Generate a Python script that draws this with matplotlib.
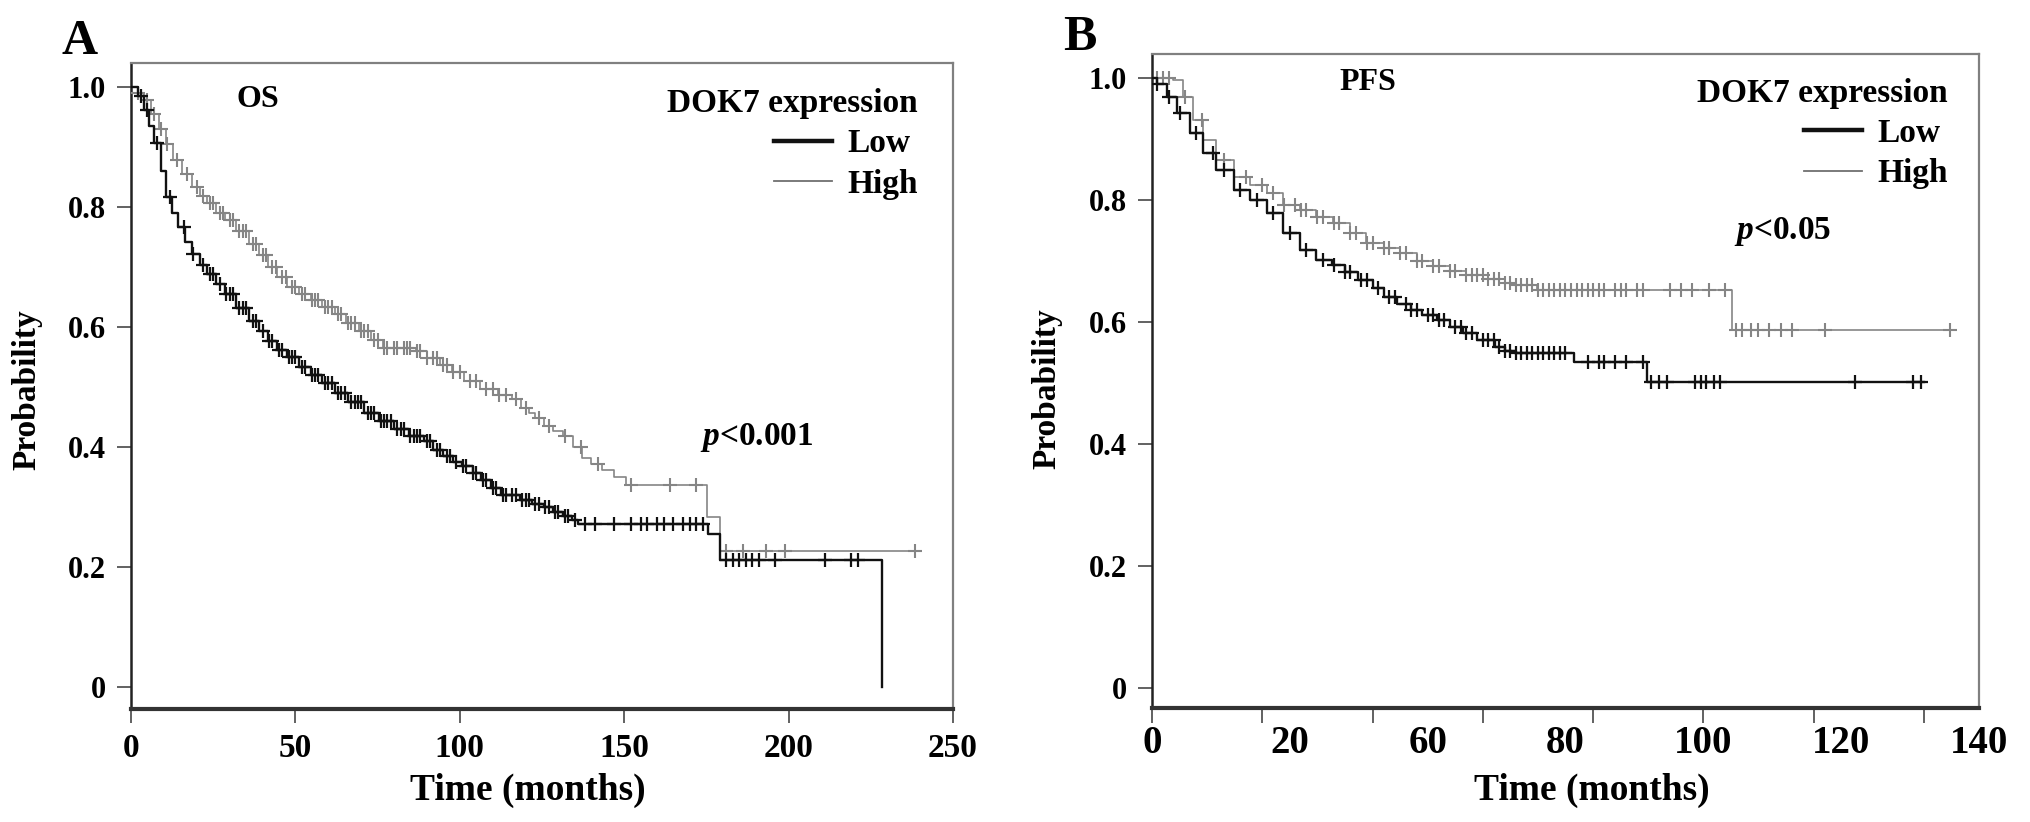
import numpy as np
import matplotlib
matplotlib.use("Agg")
import matplotlib.pyplot as plt
from matplotlib.lines import Line2D

plt.rcParams['font.family'] = ['Liberation Serif', 'DejaVu Serif']
plt.rcParams['font.weight'] = 'bold'
plt.rcParams['mathtext.fontset'] = 'custom'
plt.rcParams['mathtext.it'] = 'Liberation Serif:italic:bold'
plt.rcParams['mathtext.rm'] = 'Liberation Serif:bold'

# ---------------- Panel A (OS) data ----------------
os_low_t = [0, 2, 4, 5.5, 7, 9, 10.6, 12.5, 14.2, 16.5, 18.5, 21, 23, 26, 28.7, 32, 36, 39, 41.7,
            44.5, 47.5, 51, 54.8, 58, 62, 66, 71, 75.5, 80, 84.5, 89, 92, 95, 98, 100.7, 104,
            106.6, 109.5, 112.4, 118.3, 122, 125.6, 128.5, 131.5, 134, 136, 175.4, 179.2, 228.5]
os_low_p = [1.0, 0.985, 0.962, 0.935, 0.906, 0.86, 0.817, 0.79, 0.766, 0.742, 0.722, 0.703, 0.688,
            0.671, 0.655, 0.632, 0.61, 0.593, 0.577, 0.562, 0.549, 0.533, 0.52, 0.506, 0.49, 0.475,
            0.457, 0.443, 0.429, 0.418, 0.41, 0.395, 0.384, 0.375, 0.368, 0.356, 0.345, 0.332,
            0.32, 0.312, 0.305, 0.30, 0.292, 0.284, 0.278, 0.272, 0.255, 0.212, 0.0]
os_low_cens = [3, 5, 8, 12, 16, 19, 22, 24, 25, 27, 29, 30, 31, 33, 34, 35, 37, 38, 40, 42, 43, 45,
               46, 48, 49, 50, 52, 53, 55, 56, 57, 59, 60, 61, 63, 64, 65, 67, 68, 69, 70, 72, 73,
               74, 76, 77, 78, 79, 81, 82, 83, 85, 86, 87, 88, 90, 91, 93, 94, 96, 97, 99, 101,
               102, 104, 105, 107, 108, 110, 111, 113, 114, 116, 117, 119, 120, 121, 123, 124, 126,
               127, 129, 130, 132, 133, 135, 138, 141, 147, 152, 155, 157, 160, 162, 165, 168, 170,
               172, 174, 181, 183, 185, 187, 189, 191, 196, 211, 219, 221]

os_high_t = [0, 2, 4, 6, 8.5, 10.5, 12.8, 15.5, 18.5, 21, 23, 26, 28.7, 32, 36, 39, 41.7, 44.5,
             47.5, 51, 54.8, 58, 62, 65.5, 69.3, 73, 76.6, 86.8, 90, 94, 97.5, 101.3, 106, 111.5,
             115.9, 118.5, 121.2, 123, 125.6, 128.5, 131.5, 134.5, 137.3, 140, 143.2, 147, 150.5,
             175.3, 179.2, 238.6]
os_high_p = [1.0, 0.99, 0.979, 0.955, 0.93, 0.905, 0.878, 0.855, 0.834, 0.818, 0.806, 0.79, 0.778,
             0.76, 0.739, 0.72, 0.70, 0.683, 0.666, 0.655, 0.644, 0.633, 0.621, 0.607, 0.593, 0.578,
             0.565, 0.56, 0.548, 0.537, 0.524, 0.51, 0.497, 0.487, 0.48, 0.465, 0.457, 0.448, 0.435,
             0.426, 0.418, 0.40, 0.382, 0.372, 0.362, 0.35, 0.337, 0.283, 0.227, 0.227]
os_high_cens = [2, 5, 7, 9, 11, 14, 17, 20, 22, 24, 25, 27, 28, 30, 31, 33, 34, 35, 37, 38, 40, 41,
                43, 44, 46, 47, 49, 50, 52, 53, 55, 56, 57, 59, 60, 61, 63, 64, 66, 67, 68, 70, 71,
                72, 74, 75, 77, 78, 80, 81, 83, 84, 85, 87, 88, 90, 92, 93, 95, 96, 98, 100, 103,
                105, 108, 110, 112, 114, 117, 120, 124, 127, 132, 137, 142, 152, 164, 172, 181, 186,
                193, 199, 238.6]

# ---------------- Panel B (PFS) data ----------------
pfs_low_t = [0, 1, 2.7, 4.5, 6.9, 9.3, 11.7, 14.8, 17.8, 20.8, 23.8, 26.8, 29.8, 32.6, 35, 37.4,
             40, 42.1, 44.5, 46.9, 49, 51.7, 54, 56.4, 59, 62.2, 64, 66, 76.5, 89.8, 140]
pfs_low_p = [1.0, 0.99, 0.969, 0.943, 0.91, 0.877, 0.849, 0.816, 0.80, 0.779, 0.745, 0.718, 0.702,
             0.693, 0.682, 0.669, 0.655, 0.641, 0.63, 0.62, 0.612, 0.603, 0.592, 0.582, 0.571,
             0.559, 0.552, 0.549, 0.534, 0.502, 0.502]
pfs_low_cens = [1, 3, 5, 8, 11, 13, 16, 19, 22, 25, 28, 31, 33, 35, 36, 38, 39, 41, 43, 44, 46, 47,
                48, 50, 51, 52, 53, 55, 56, 57, 58, 60, 61, 62, 63, 64, 65, 66, 67, 68, 69, 70, 71,
                72, 73, 74, 75, 79, 81, 82, 84, 86, 89, 90.5, 92, 93.5, 98.5, 99.5, 100.5, 102,
                103, 127.5, 138, 139.5]

pfs_high_t = [0, 2, 3.9, 5.7, 7.5, 9.3, 11.7, 14.8, 17.8, 20.8, 23.8, 26.8, 29.8, 32.9, 35.9, 38.9,
              42, 45, 48, 51, 54, 57, 61, 64, 66, 69.9, 105.2, 144.8]
pfs_high_p = [1.0, 1.0, 0.997, 0.969, 0.931, 0.898, 0.866, 0.838, 0.825, 0.811, 0.792, 0.784,
              0.772, 0.762, 0.745, 0.729, 0.721, 0.713, 0.70, 0.692, 0.683, 0.676, 0.670, 0.664,
              0.66, 0.652, 0.586, 0.586]
pfs_high_cens = [1, 2, 3, 6, 9, 13, 17, 20, 22, 24, 26, 27, 28, 30, 31, 33, 34, 36, 37, 39, 40, 42,
                 43, 45, 46, 48, 49, 51, 52, 54, 55, 57, 58, 59, 60, 61, 62, 63, 64, 65, 66, 67, 68,
                 69, 70, 71, 72, 73, 74, 75, 76, 77, 78, 79, 80, 81, 82, 84, 85, 86, 88, 89, 94, 96,
                 98, 101, 104, 106, 107, 108.6, 110, 112, 114, 116, 122, 144.8]

y_ticks = [0, 0.2, 0.4, 0.6, 0.8, 1.0]
y_ticklabels = ['0', '0.2', '0.4', '0.6', '0.8', '1.0']
a_xticks = [0, 50, 100, 150, 200, 250]
a_xticklabels = ['0', '50', '100', '150', '200', '250']
b_xtick_marks = [0, 20, 40, 60, 80, 100, 120, 140]
b_xlabel_pos = [0, 25, 50, 75, 100, 125, 150]
b_xticklabels = ['0', '20', '60', '80', '100', '120', '140']

LOW_C = '#111111'
HIGH_C = '#858585'


def step_value(ts, ps, t):
    idx = np.searchsorted(np.asarray(ts), np.asarray(t), side='right') - 1
    return np.asarray(ps)[np.clip(idx, 0, None)]


def draw_curves(ax, lt, lp, lc, ht, hp, hc):
    ax.step(ht, hp, where='post', color=HIGH_C, lw=1.2, zorder=3)
    ax.plot(hc, step_value(ht, hp, hc), ls='none', marker='+', ms=10, mew=1.5,
            color=HIGH_C, zorder=3)
    ax.step(lt, lp, where='post', color=LOW_C, lw=1.7, zorder=4)
    ax.plot(lc, step_value(lt, lp, lc), ls='none', marker='+', ms=10, mew=1.6,
            color=LOW_C, zorder=4)


def style_axes(ax):
    for s in ['top', 'right']:
        ax.spines[s].set_color('#808080')
        ax.spines[s].set_linewidth(1.6)
    ax.spines['left'].set_color('#222222')
    ax.spines['left'].set_linewidth(1.8)
    ax.spines['bottom'].set_color('#333333')
    ax.spines['bottom'].set_linewidth(3.0)
    ax.set_yticks(y_ticks, y_ticklabels)
    ax.tick_params(axis='y', direction='out', length=10, width=1.3, color='#555555',
                   pad=8, labelsize=22)
    ax.tick_params(top=False, right=False)


def add_legend(ax, anchor):
    handles = [Line2D([], [], color=LOW_C, lw=3.2), Line2D([], [], color='#707070', lw=1.3)]
    leg = ax.legend(handles, ['Low', 'High'], title='DOK7 expression', loc='upper right',
                    bbox_to_anchor=anchor, frameon=False, fontsize=24, title_fontsize=24,
                    alignment='right', handlelength=1.75, handletextpad=0.45,
                    labelspacing=0.28, borderpad=0.0, borderaxespad=0.0)
    leg.get_title().set_fontweight('bold')
    return leg


fig = plt.figure(figsize=(20.31, 8.22), dpi=100)
axA = fig.add_axes([0.0645, 0.1375, 0.4047, 0.7859])
axB = fig.add_axes([0.5672, 0.1387, 0.4072, 0.7956])

# ----- Panel A -----
draw_curves(axA, os_low_t, os_low_p, os_low_cens, os_high_t, os_high_p, os_high_cens)
style_axes(axA)
axA.set_xlim(0, 250)
axA.set_ylim(-0.037, 1.04)
axA.set_xticks(a_xticks, a_xticklabels)
axA.tick_params(axis='x', direction='out', length=10, width=1.3, color='#555555',
                pad=7, labelsize=24)
axA.set_xlabel('Time (months)', fontsize=27, fontweight='bold')
axA.xaxis.set_label_coords(0.483, -0.1254)
axA.xaxis.label.set_va('center')
axA.set_ylabel('Probability', fontsize=24, fontweight='bold')
axA.yaxis.set_label_coords(-0.1265, 0.495)
axA.yaxis.label.set_va('center')
axA.text(0.1545, 0.9427, 'OS', transform=axA.transAxes, ha='center', va='center',
         fontsize=23, fontweight='bold')
add_legend(axA, (0.9574, 0.961))
axA.text(0.7616, 0.4195, r'$\mathit{p}$<0.001', transform=axA.transAxes, ha='center',
         va='center', fontsize=24, fontweight='bold')

# ----- Panel B -----
draw_curves(axB, pfs_low_t, pfs_low_p, pfs_low_cens, pfs_high_t, pfs_high_p, pfs_high_cens)
style_axes(axB)
axB.set_xlim(0, 150)
axB.set_ylim(-0.033, 1.039)
axB.xaxis.remove_overlapping_locs = False
# labels on major ticks (no mark), tick marks on minor ticks (no label)
axB.set_xticks(b_xlabel_pos, b_xticklabels)
axB.set_xticks(b_xtick_marks, minor=True)
axB.tick_params(axis='x', which='major', length=0, pad=12, labelsize=28)
axB.tick_params(axis='x', which='minor', direction='out', length=11, width=1.3,
                color='#555555', labelbottom=False)
axB.set_xlabel('Time (months)', fontsize=27, fontweight='bold')
axB.xaxis.set_label_coords(0.532, -0.1254)
axB.xaxis.label.set_va('center')
axB.set_ylabel('Probability', fontsize=24, fontweight='bold')
axB.yaxis.set_label_coords(-0.127, 0.488)
axB.yaxis.label.set_va('center')
axB.text(0.261, 0.9557, 'PFS', transform=axB.transAxes, ha='center', va='center',
         fontsize=23, fontweight='bold')
add_legend(axB, (0.9625, 0.964))
axB.text(0.763, 0.728, r'$\mathit{p}$<0.05', transform=axB.transAxes, ha='center',
         va='center', fontsize=24, fontweight='bold')

fig.text(0.0394, 0.949, 'A', ha='center', va='center', fontsize=36, fontweight='bold')
fig.text(0.5318, 0.954, 'B', ha='center', va='center', fontsize=36, fontweight='bold')

fig.savefig('out.png', dpi=100, facecolor='white')
